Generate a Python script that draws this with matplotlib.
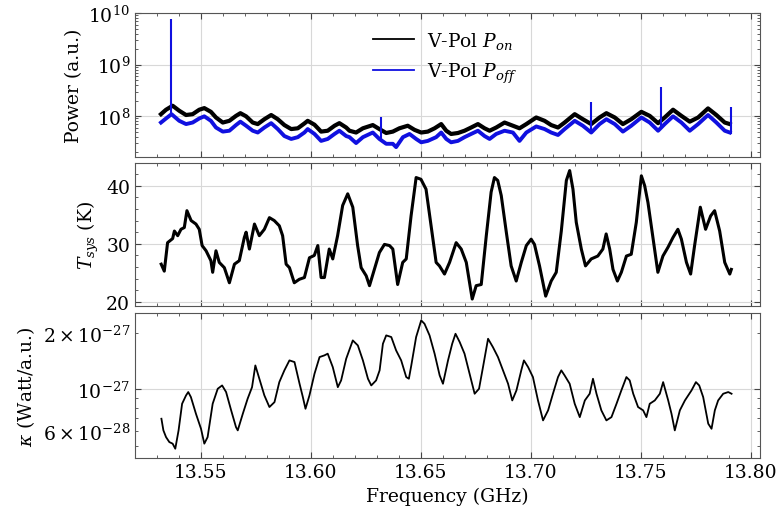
import numpy as np
import matplotlib
matplotlib.use("Agg")
import matplotlib.pyplot as plt
from matplotlib.lines import Line2D
from matplotlib.ticker import MultipleLocator

# ---- data ----
# top panel: power (units of 1e8 a.u.)
f_on = [13.5318, 13.5341, 13.5371, 13.5401, 13.5432, 13.5462, 13.5492, 13.5515, 13.5545, 13.5568,
        13.5599, 13.5629, 13.5659, 13.5679, 13.5705, 13.5735, 13.5758, 13.5788, 13.5819, 13.5849,
        13.5879, 13.5910, 13.5940, 13.5970, 13.5985, 13.6016, 13.6046, 13.6076, 13.6107, 13.6129,
        13.6160,
        13.6175, 13.6205, 13.6236, 13.6281, 13.6311, 13.6342, 13.6372, 13.6402, 13.6440, 13.6471,
        13.6501, 13.6531, 13.6562, 13.6592, 13.6615, 13.6637, 13.6668, 13.6698, 13.6728, 13.6759,
        13.6789, 13.6812, 13.6842, 13.6880, 13.6918, 13.6948, 13.6979, 13.7024,
        13.7062, 13.7092, 13.7123, 13.7153, 13.7199, 13.7236, 13.7274, 13.7312, 13.7343, 13.7381,
        13.7418, 13.7456, 13.7502, 13.7540, 13.7578, 13.7608, 13.7646, 13.7684, 13.7722, 13.7760,
        13.7805, 13.7843, 13.7881, 13.7904]
p_on = [1.09, 1.33, 1.59, 1.27, 1.05, 1.09, 1.33, 1.43, 1.21, 0.94,
        0.75, 0.81, 1.01, 1.14, 0.99, 0.75, 0.70, 0.87, 1.05, 0.87,
        0.67, 0.56, 0.58, 0.72, 0.81, 0.68, 0.50, 0.52, 0.65, 0.73,
        0.60,
        0.52, 0.48, 0.58, 0.67, 0.56, 0.47, 0.50, 0.58, 0.65, 0.54,
        0.48, 0.50, 0.58, 0.70, 0.52, 0.45, 0.47, 0.52, 0.60, 0.70,
        0.58, 0.52, 0.60, 0.75, 0.65, 0.58, 0.70, 0.94,
        0.81, 0.67, 0.60, 0.75, 1.09, 0.87, 0.70, 0.94, 1.14, 0.94,
        0.70, 0.87, 1.21, 1.01, 0.73, 0.94, 1.33, 1.01, 0.78, 0.94,
        1.41, 1.05, 0.75, 0.70]

f_off = [13.5318, 13.5341, 13.5366, 13.5401, 13.5432, 13.5462, 13.5492, 13.5515, 13.5545, 13.5568,
         13.5599, 13.5629, 13.5659, 13.5679, 13.5705, 13.5735, 13.5758, 13.5788, 13.5819, 13.5849,
         13.5879, 13.5910, 13.5940, 13.5970, 13.5985, 13.6016, 13.6046, 13.6076, 13.6107, 13.6129,
         13.6160,
         13.6175, 13.6205, 13.6236, 13.6281, 13.6311, 13.6342, 13.6372, 13.6387, 13.6418, 13.6448,
         13.6478, 13.6501, 13.6531, 13.6569, 13.6592, 13.6615, 13.6637, 13.6668, 13.6698, 13.6728,
         13.6759, 13.6789, 13.6812, 13.6842, 13.6880, 13.6918, 13.6948, 13.6979, 13.7024,
         13.7062, 13.7092, 13.7123, 13.7153, 13.7199, 13.7236, 13.7274, 13.7312, 13.7343, 13.7381,
         13.7418, 13.7456, 13.7502, 13.7540, 13.7578, 13.7608, 13.7646, 13.7684, 13.7722, 13.7760,
         13.7805, 13.7843, 13.7881, 13.7904]
p_off = [0.75, 0.90, 1.09, 0.81, 0.70, 0.75, 0.90, 0.99, 0.81, 0.60,
         0.50, 0.52, 0.67, 0.78, 0.65, 0.52, 0.48, 0.60, 0.73, 0.56,
         0.41, 0.36, 0.39, 0.48, 0.56, 0.45, 0.33, 0.36, 0.45, 0.52,
         0.41,
         0.39, 0.30, 0.39, 0.48, 0.36, 0.29, 0.29, 0.25, 0.39, 0.45,
         0.36, 0.31, 0.33, 0.39, 0.48, 0.36, 0.31, 0.33, 0.39, 0.45,
         0.52, 0.41, 0.36, 0.45, 0.52, 0.48, 0.33, 0.48, 0.63,
         0.56, 0.48, 0.43, 0.56, 0.81, 0.65, 0.48, 0.70, 0.87, 0.70,
         0.50, 0.65, 0.94, 0.75, 0.52, 0.70, 0.99, 0.75, 0.52, 0.70,
         1.05, 0.75, 0.52, 0.48]

# narrow RFI spikes in the off spectrum (1e8 a.u.)
spike_f = [13.5363, 13.6319, 13.7275, 13.7593, 13.7908]
spike_base = [1.00, 0.35, 0.50, 0.55, 0.45]
spike_top = [76.0, 0.95, 1.86, 3.60, 1.48]

# middle panel: system temperature (K)
f_tsys = [13.5319, 13.5333, 13.5348, 13.5371, 13.5379, 13.5394, 13.5409, 13.5424, 13.5436, 13.5455,
          13.5477, 13.5492, 13.5505, 13.5523, 13.5545, 13.5553, 13.5568, 13.5583, 13.5606, 13.5629,
          13.5652, 13.5674, 13.5697, 13.5705, 13.5720, 13.5743, 13.5765, 13.5788, 13.5811, 13.5833,
          13.5856, 13.5871, 13.5887, 13.5902, 13.5924, 13.5947, 13.5970, 13.5993, 13.6015, 13.6031,
          13.6046, 13.6061, 13.6083, 13.6099, 13.6121, 13.6144, 13.6167, 13.6190, 13.6212, 13.6228,
          13.6251, 13.6266, 13.6288,
          13.6311, 13.6334, 13.6357, 13.6372, 13.6394, 13.6417, 13.6433, 13.6455, 13.6478, 13.6500,
          13.6523, 13.6546, 13.6569, 13.6584, 13.6607, 13.6630, 13.6660, 13.6683, 13.6706, 13.6733,
          13.6751, 13.6774, 13.6797, 13.6819, 13.6834, 13.6849, 13.6865, 13.6888, 13.6910, 13.6933,
          13.6956, 13.6979, 13.7001, 13.7016, 13.7039, 13.7067, 13.7092, 13.7115, 13.7138, 13.7161,
          13.7176, 13.7191, 13.7206, 13.7229, 13.7248, 13.7274, 13.7304, 13.7327, 13.7342, 13.7358,
          13.7373, 13.7393, 13.7411, 13.7434, 13.7456, 13.7479, 13.7502, 13.7517, 13.7532, 13.7547,
          13.7562, 13.7577, 13.7600, 13.7623, 13.7646, 13.7668, 13.7684, 13.7707, 13.7726, 13.7744,
          13.7770, 13.7794, 13.7817, 13.7835, 13.7858, 13.7881, 13.7904, 13.7911]
tsys = [26.5, 25.3, 30.2, 30.9, 32.2, 31.4, 32.5, 32.8, 35.7, 34.0,
        33.4, 32.5, 29.7, 28.8, 27.1, 25.1, 28.8, 26.8, 25.9, 23.3,
        26.5, 27.1, 31.1, 32.0, 29.1, 33.4, 31.4, 32.5, 34.5, 34.0,
        33.1, 31.4, 26.5, 25.9, 23.3, 23.9, 24.2, 27.6, 28.0, 29.7,
        24.2, 24.2, 29.1, 27.4, 31.4, 36.6, 38.6, 36.3, 29.7, 25.9,
        24.5, 22.8, 25.6,
        28.5, 29.9, 29.7, 29.1, 23.0, 26.8, 27.4, 34.8, 41.4, 41.1,
        39.4, 33.1, 26.8, 26.2, 24.8, 26.8, 30.2, 29.1, 26.8, 20.5,
        22.8, 23.0, 31.4, 38.9, 41.4, 40.9, 38.3, 32.0, 26.2, 23.6,
        26.8, 29.7, 30.8, 29.9, 26.2, 21.0, 23.6, 25.1, 32.2, 40.9,
        42.6, 39.4, 33.7, 29.1, 26.2, 27.4, 27.9, 29.1, 31.7, 29.1,
        25.6, 23.6, 25.1, 27.9, 28.2, 33.7, 41.7, 40.0, 37.1, 33.1,
        29.1, 25.1, 27.9, 29.4, 31.1, 32.5, 30.8, 26.8, 24.8, 29.7,
        36.3, 32.5, 34.8, 35.7, 32.2, 26.8, 24.8, 25.6]

# bottom panel: kappa (units of 1e-27 Watt/a.u.)
f_kappa = [13.5320, 13.5329, 13.5341, 13.5356, 13.5371, 13.5383, 13.5398, 13.5414, 13.5432, 13.5442,
           13.5454, 13.5477, 13.5500, 13.5515, 13.5530, 13.5553, 13.5576, 13.5596, 13.5614, 13.5637,
           13.5659, 13.5667, 13.5690, 13.5712, 13.5732, 13.5747, 13.5765, 13.5788, 13.5811, 13.5834,
           13.5856, 13.5879, 13.5902, 13.5925, 13.5948, 13.5963, 13.5975, 13.5993, 13.6016, 13.6039,
           13.6061, 13.6076, 13.6099, 13.6122, 13.6137, 13.6160, 13.6190, 13.6213, 13.6236, 13.6259,
           13.6274, 13.6296,
           13.6312, 13.6327, 13.6342, 13.6365, 13.6387, 13.6410, 13.6433, 13.6445, 13.6456, 13.6478,
           13.6501, 13.6516, 13.6539, 13.6562, 13.6585, 13.6600, 13.6623, 13.6642, 13.6657, 13.6676,
           13.6698, 13.6721, 13.6744, 13.6764, 13.6782, 13.6805, 13.6827, 13.6850, 13.6873, 13.6896,
           13.6915, 13.6934, 13.6956, 13.6968, 13.6987, 13.7009, 13.7032, 13.7055, 13.7078, 13.7100,
           13.7123, 13.7138, 13.7153, 13.7176, 13.7199, 13.7222, 13.7245, 13.7267, 13.7282, 13.7298,
           13.7320, 13.7343, 13.7366, 13.7389, 13.7411, 13.7434, 13.7449, 13.7465, 13.7487, 13.7510,
           13.7525, 13.7540, 13.7563, 13.7586, 13.7601, 13.7624, 13.7639, 13.7654, 13.7677, 13.7700,
           13.7730, 13.7750, 13.7765, 13.7783, 13.7806, 13.7821, 13.7836, 13.7851, 13.7874, 13.7897,
           13.7912]
kappa = [0.697, 0.604, 0.556, 0.523, 0.513, 0.482, 0.604, 0.838, 0.929, 0.968,
         0.910, 0.741, 0.616, 0.513, 0.556, 0.838, 1.008, 1.050, 0.968, 0.773,
         0.629, 0.604, 0.741, 0.892, 1.028, 1.343, 1.140, 0.929, 0.805, 0.855,
         1.094, 1.264, 1.429, 1.400, 1.072, 0.910, 0.788, 0.929, 1.213, 1.489,
         1.520, 1.552, 1.316, 1.028, 1.117, 1.458, 1.827, 1.718, 1.429, 1.140,
         1.050, 1.117,
         1.264, 1.754, 1.944, 1.905, 1.616, 1.429, 1.164, 1.140, 1.343, 1.905,
         2.337, 2.243, 1.944, 1.552, 1.188, 1.072, 1.429, 1.754, 1.983, 1.791,
         1.552, 1.213, 0.948, 1.008, 1.316, 1.865, 1.683, 1.489, 1.264, 1.072,
         0.873, 0.988, 1.264, 1.429, 1.316, 1.164, 0.873, 0.683, 0.773, 0.948,
         1.164, 1.264, 1.188, 1.072, 0.838, 0.711, 0.873, 0.948, 1.140, 0.948,
         0.773, 0.683, 0.711, 0.838, 0.988, 1.164, 1.117, 0.948, 0.805, 0.773,
         0.711, 0.838, 0.873, 0.948, 1.094, 0.873, 0.741, 0.604, 0.773, 0.873,
         0.988, 1.094, 1.050, 0.910, 0.656, 0.616, 0.773, 0.873, 0.948, 0.968,
         0.948]

# ---- style ----
plt.rcParams['font.family'] = 'serif'
plt.rcParams['font.serif'] = ['DejaVu Serif']
plt.rcParams['mathtext.fontset'] = 'dejavuserif'
plt.rcParams['font.size'] = 13.5
plt.rcParams['xtick.direction'] = 'in'
plt.rcParams['ytick.direction'] = 'in'
plt.rcParams['xtick.top'] = True
plt.rcParams['ytick.right'] = True
plt.rcParams['axes.edgecolor'] = '#555555'

fig = plt.figure(figsize=(7.76, 5.10), dpi=100)
ax1 = fig.add_axes([0.174, 0.690, 0.805, 0.2824])
ax2 = fig.add_axes([0.174, 0.398, 0.805, 0.2804])
ax3 = fig.add_axes([0.174, 0.100, 0.805, 0.2843])

on = np.array(p_on) * 1e8
off = np.array(p_off) * 1e8

#1. power
ax1.plot(f_on, on, color='black', lw=3.0)
ax1.plot(f_off, off, color='#1010e0', lw=2.8)
ax1.vlines(spike_f, np.array(spike_base) * 1e8, np.array(spike_top) * 1e8, color='#1010e0', lw=1.5)
ax1.set_yscale('log')
ax1.set_ylim(1.6e7, 1e10)
ax1.set_ylabel('Power (a.u.)')
handles = [Line2D([], [], color='black', lw=1.3), Line2D([], [], color='#1010e0', lw=1.3)]
ax1.legend(handles, [r'V-Pol $P_{on}$', r'V-Pol $P_{off}$'], loc='upper left',
           bbox_to_anchor=(0.354, 1.0), frameon=False, handlelength=2.2,
           handletextpad=0.7, labelspacing=0.5)

#2. Tsys
ax2.plot(f_tsys, tsys, color='black', lw=2.2)
ax2.set_ylim(19.3, 43.9)
ax2.yaxis.set_major_locator(MultipleLocator(10))
ax2.yaxis.set_minor_locator(MultipleLocator(2))
ax2.set_ylabel(r'$T_{sys}$ (K)')

#3. kappa
ax3.plot(f_kappa, np.array(kappa) * 1e-27, color='black', lw=1.3)
ax3.set_yscale('log')
ax3.set_ylim(4.3e-28, 2.56e-27)
ax3.set_ylabel(r'$\kappa$ (Watt/a.u.)')
ax3.set_xlabel('Frequency (GHz)')

for ax in (ax1, ax2, ax3):
    ax.set_xlim(13.52, 13.804)
    ax.xaxis.set_major_locator(MultipleLocator(0.05))
    ax.xaxis.set_minor_locator(MultipleLocator(0.01))
    ax.grid(True, which='major', color='#d8d8d8', lw=0.8)
    ax.tick_params(which='major', length=4, width=0.8, color='#444444')
    ax.tick_params(which='minor', length=2.2, width=0.6, color='#444444')
for ax in (ax1, ax2):
    ax.tick_params(labelbottom=False)
ax3.xaxis.set_major_formatter(matplotlib.ticker.FormatStrFormatter('%.2f'))

fig.savefig('out.png', dpi=100)
